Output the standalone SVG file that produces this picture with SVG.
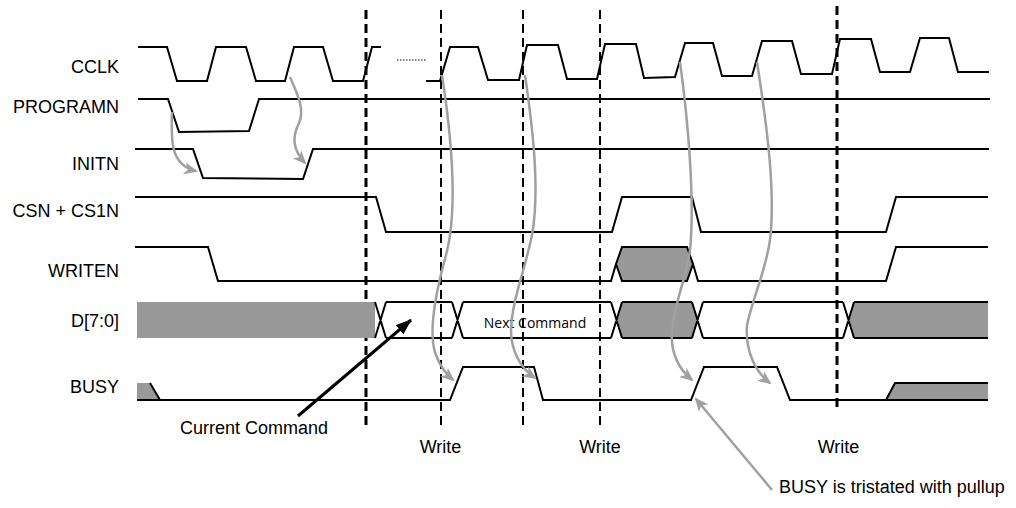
<svg xmlns="http://www.w3.org/2000/svg" width="1016" height="508" viewBox="0 0 1016 508">
<style>
.sig{fill:none;stroke:#000;stroke-width:2;stroke-linejoin:miter}
.gf{fill:#999999}
.lbl{font-family:"Liberation Sans",Arial,sans-serif;font-size:18px;fill:#000}
.nc{font-family:"Open Sans","Noto Sans",sans-serif;font-size:14px;fill:#000}
.dthick{stroke:#000;stroke-width:3;stroke-dasharray:9 5;fill:none}
.dthin{stroke:#000;stroke-width:2;stroke-dasharray:9 5;fill:none}
.garr{fill:none;stroke:#a0a0a0;stroke-width:2.5}
</style>
<defs>
<marker id="gh" markerUnits="userSpaceOnUse" markerWidth="14" markerHeight="12" viewBox="0 0 14 12" refX="12" refY="6" orient="auto">
<path d="M0,0 L14,6 L0,12 L4,6 z" fill="#a0a0a0"/>
</marker>
<marker id="bh" markerUnits="userSpaceOnUse" markerWidth="16" markerHeight="12" viewBox="0 0 16 12" refX="15" refY="6" orient="auto">
<path d="M0,0 L16,6 L0,12 z" fill="#000"/>
</marker>
</defs>
<rect width="1016" height="508" fill="#fff"/>

<g id="labels">
<text class="lbl" x="119" y="73" text-anchor="end">CCLK</text>
<text class="lbl" x="119" y="113" text-anchor="end">PROGRAMN</text>
<text class="lbl" x="119" y="170" text-anchor="end">INITN</text>
<text class="lbl" x="119" y="217" text-anchor="end">CSN + CS1N</text>
<text class="lbl" x="119" y="277" text-anchor="end">WRITEN</text>
<text class="lbl" x="119" y="327" text-anchor="end">D[7:0]</text>
<text class="lbl" x="119" y="393" text-anchor="end">BUSY</text>
</g>

<g id="markers">
<path class="dthick" d="M366,10 V427"/>
<path class="dthin" d="M441,10 V427"/>
<path class="dthin" d="M523,10 V427"/>
<path class="dthin" d="M600,10 V427"/>
<path class="dthick" d="M837,6 V412"/>
<text class="lbl" x="440.5" y="453" text-anchor="middle">Write</text>
<text class="lbl" x="600" y="453" text-anchor="middle">Write</text>
<text class="lbl" x="838.5" y="453" text-anchor="middle">Write</text>
</g>

<g id="cclk">
<path class="sig" d="M138,47 L167,47 L177,81 L207,81 L216,47 L246,47 L256,81 L285,81 L294,47 L323,47 L333,81 L363,81 L372,47 L381,47"/>
<path d="M397,60 H426" stroke="#000" stroke-width="1" stroke-dasharray="1.5 1.5"/>
<path class="sig" d="M426,81 L440,81 L450,47 L478,47 L488,80 L519,80 L527,45 L558,45 L567,79 L597,79 L605,44 L636,44 L644,78 L675,77 L685,43 L713,43 L722,76 L752,76 L762,41 L792,41 L801,74 L832,74 L840,39 L871,39 L880,72 L910,72 L920,38 L949,38 L958,72 L989,72"/>
</g>

<g id="programn">
<path class="sig" d="M138,99 L168,99 L179,132 L249,131 L259,99 L990,99"/>
</g>

<g id="initn">
<path class="sig" d="M135,149 L193,149 L203,178 L303,179 L313,149 L989,149"/>
</g>

<g id="csn">
<path class="sig" d="M135,197 L376,197 L386,232 L612,232 L622,197 L692,197 L701,232 L886,232 L896,197 L988,197"/>
</g>

<g id="writen">
<polygon class="gf" points="616,264 622,247 687,247 693,264 687,281 622,281" stroke="#000" stroke-width="2"/>
<path class="sig" d="M135,247 L208,247 L218,281 L611,281 L616,264"/>
<path class="sig" d="M693,264 L698,281 L886,281 L896,247 L988,247"/>
</g>

<g id="data">
<rect class="gf" x="137" y="302" width="238" height="36"/>
<polygon class="gf" points="616.5,320 622,302 692,302 697.5,320 692,338 622,338"/>
<polygon class="gf" points="848.5,320 854,302 988,302 988,338 854,338"/>
<path class="sig" d="M386,302 H452 M463,302 H611 M622,302 H692 M703,302 H843 M854,302 H988 M386,338 H452 M463,338 H611 M622,338 H692 M703,338 H843 M854,338 H988 M375,302 L386,338 M375,338 L386,302 M452,302 L463,338 M452,338 L463,302 M611,302 L622,338 M611,338 L622,302 M692,302 L703,338 M692,338 L703,302 M843,302 L854,338 M843,338 L854,302"/>
<text class="nc" x="535" y="328" text-anchor="middle">Next Command</text>
</g>

<g id="busy">
<polygon class="gf" points="137,383 150,383 160,400 137,400"/>
<polygon class="gf" points="886,400 895,383 988,383 988,400"/>
<path class="sig" d="M150,383 L160,400"/>
<path class="sig" d="M137,400 L450,400 L463,367 L534,367 L543,400 L691,400 L704,367 L777,367 L790,400 L988,400"/>
<path class="sig" d="M886,400 L895,383 L988,383"/>
</g>

<g id="connectors">
<path class="garr" d="M172,112 C171,140 170,165 196,171" marker-end="url(#gh)"/>
<path class="garr" d="M290,77 C298,95 305,110 299,123 C293,135 291,148 305,163" marker-end="url(#gh)"/>
<path class="garr" d="M442,75 C452,140 458,210 446,255 C435,295 428,335 436,355 C440,366 446,374 453,380" marker-end="url(#gh)"/>
<path class="garr" d="M525,75 C533,130 540,190 532,235 C525,270 512,300 511,330 C511,350 520,368 535,378" marker-end="url(#gh)"/>
<path class="garr" d="M680,62 C688,120 695,200 690,250 C686,280 675,300 672,330 C670,355 680,370 692,380" marker-end="url(#gh)"/>
<path class="garr" d="M757,62 C766,120 776,190 770,240 C766,270 752,300 747,325 C745,350 755,372 770,383" marker-end="url(#gh)"/>
<path class="garr" d="M772,490 L696,399" marker-end="url(#gh)"/>
<path d="M298,416 L411,320" stroke="#000" stroke-width="3" fill="none" marker-end="url(#bh)"/>
</g>

<g id="notes">
<text class="lbl" x="180" y="434">Current Command</text>
<text class="lbl" x="779" y="493">BUSY is tristated with pullup</text>
</g>
</svg>
